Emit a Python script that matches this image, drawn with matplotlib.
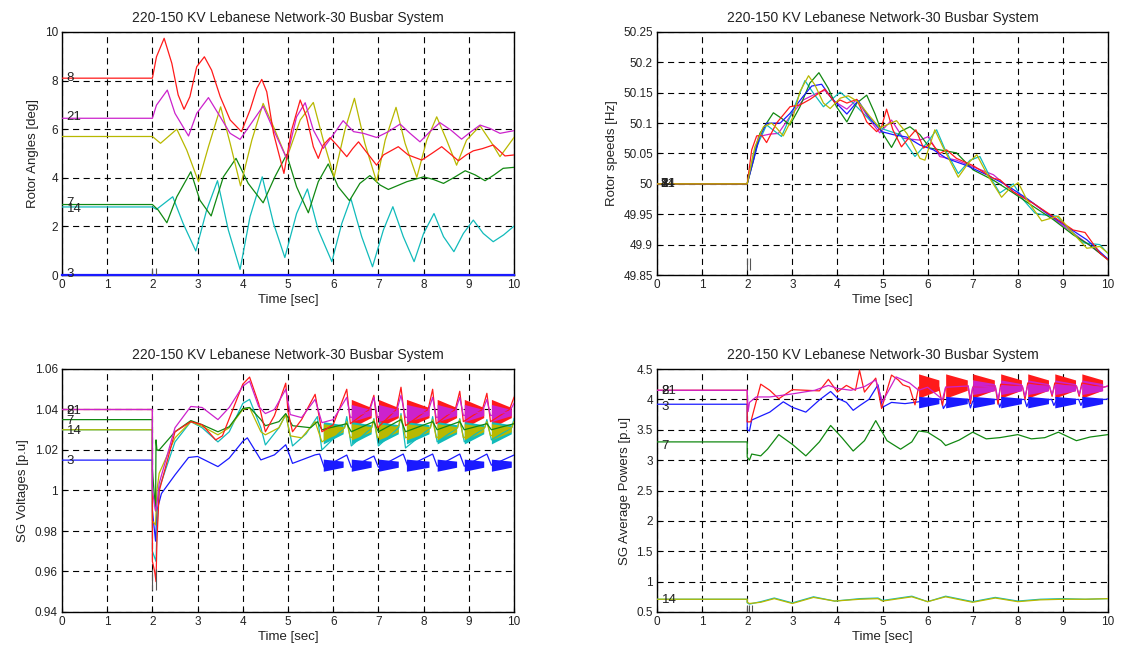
import matplotlib
matplotlib.use('Agg')
import matplotlib.pyplot as plt
from matplotlib.ticker import FormatStrFormatter, MultipleLocator

plt.rcParams['font.family'] = ['Liberation Sans', 'DejaVu Sans']

TITLE = "220-150 KV Lebanese Network-30 Busbar System"
XLABEL = "Time [sec]"

RED = '#ff1a1a'
MAG = '#cc22cc'
YEL = '#b8b800'
GRN = '#118811'
CYA = '#11bbbb'
BLU = '#1a1aff'

# ---------------- Panel 1: rotor angles [deg] ----------------
ra_red_t = [0, 2.0, 2.09, 2.26, 2.43, 2.57, 2.70, 2.83, 2.98, 3.15, 3.31, 3.50, 3.72, 3.97, 4.16, 4.31, 4.42, 4.53, 4.68, 4.91, 5.08, 5.27, 5.41, 5.56, 5.67, 5.78, 5.93, 6.08, 6.30, 6.43, 6.56, 6.76, 6.96, 7.11, 7.44, 7.66, 7.96, 8.18, 8.40, 8.58, 8.77, 8.95, 9.10, 9.30, 9.54, 9.80, 10]
ra_red = [8.1, 8.1, 8.98, 9.74, 8.71, 7.41, 6.82, 7.34, 8.57, 8.98, 8.43, 7.34, 6.38, 5.90, 6.79, 7.68, 8.05, 7.54, 5.83, 4.18, 5.97, 7.20, 6.51, 5.28, 4.80, 5.35, 5.65, 5.35, 4.87, 5.2, 5.48, 5.0, 4.52, 4.94, 5.28, 4.94, 4.73, 5.0, 5.28, 5.0, 4.70, 4.95, 5.11, 5.2, 5.35, 4.90, 4.94]
ra_mag_t = [0, 2.0, 2.09, 2.33, 2.50, 2.80, 2.98, 3.24, 3.50, 3.72, 3.94, 4.16, 4.45, 4.68, 4.97, 5.19, 5.38, 5.56, 5.78, 5.97, 6.22, 6.45, 6.67, 6.96, 7.22, 7.48, 7.70, 7.92, 8.14, 8.36, 8.60, 8.84, 9.05, 9.25, 9.47, 9.69, 10]
ra_mag = [6.45, 6.45, 6.99, 7.61, 6.65, 5.72, 6.65, 7.30, 6.51, 5.83, 5.58, 6.17, 6.95, 5.97, 4.80, 6.51, 7.09, 5.97, 5.21, 5.69, 6.35, 5.90, 5.83, 5.66, 5.90, 6.21, 5.83, 5.48, 5.90, 6.27, 5.97, 5.59, 5.90, 6.17, 6.03, 5.83, 5.94]
ra_yel_t = [0, 2.0, 2.18, 2.54, 2.76, 3.02, 3.24, 3.51, 3.72, 3.95, 4.20, 4.45, 4.68, 4.97, 5.27, 5.56, 5.78, 6.02, 6.26, 6.47, 6.70, 6.96, 7.15, 7.39, 7.59, 7.85, 8.07, 8.29, 8.51, 8.73, 8.95, 9.25, 9.51, 9.69, 10]
ra_yel = [5.7, 5.7, 5.42, 6.0, 5.14, 3.84, 5.28, 6.92, 5.42, 3.67, 5.55, 7.06, 6.10, 4.80, 6.38, 7.10, 5.55, 4.04, 5.97, 7.27, 5.42, 3.84, 5.55, 6.90, 5.42, 4.02, 5.55, 6.51, 5.55, 4.52, 5.55, 6.14, 5.42, 4.87, 5.66]
ra_grn_t = [0, 2.0, 2.13, 2.32, 2.54, 2.85, 3.05, 3.30, 3.57, 3.85, 4.12, 4.45, 4.71, 4.97, 5.19, 5.45, 5.67, 5.89, 6.11, 6.36, 6.59, 6.81, 7.04, 7.22, 7.63, 8.0, 8.22, 8.44, 8.68, 8.92, 9.14, 9.36, 9.56, 9.76, 10]
ra_grn = [2.9, 2.9, 2.67, 2.15, 3.22, 4.25, 3.08, 2.43, 4.04, 4.80, 3.77, 2.97, 4.04, 4.96, 3.63, 2.56, 3.84, 4.57, 3.63, 3.06, 3.77, 4.09, 3.70, 3.52, 3.84, 4.04, 3.93, 3.77, 4.02, 4.29, 4.12, 3.88, 4.12, 4.39, 4.43]
ra_cya_t = [0, 2.0, 2.09, 2.45, 2.68, 2.96, 3.20, 3.44, 3.68, 3.94, 4.16, 4.43, 4.68, 4.93, 5.19, 5.43, 5.67, 5.97, 6.19, 6.39, 6.63, 6.87, 7.11, 7.32, 7.55, 7.79, 8.0, 8.23, 8.44, 8.67, 8.88, 9.10, 9.32, 9.54, 9.77, 10]
ra_cya = [2.8, 2.8, 2.70, 3.22, 2.12, 0.99, 2.67, 3.88, 1.85, 0.23, 2.40, 4.04, 2.12, 0.72, 2.53, 3.54, 1.85, 0.55, 2.12, 3.15, 1.58, 0.34, 1.85, 2.81, 1.58, 0.55, 1.71, 2.53, 1.58, 0.96, 1.71, 2.26, 1.71, 1.37, 1.65, 2.01]
ra_blu_t = [0, 10]
ra_blu = [0, 0]
ra_labels = ["8", "21", "7", "14", "3"]
ra_label_y = [8.1, 6.5, 2.95, 2.72, 0.05]

# ---------------- Panel 2: rotor speeds [Hz] ----------------
rs_red_t = [0, 2.0, 2.1, 2.21, 2.32, 2.43, 2.65, 2.95, 3.17, 3.39, 3.72, 3.84, 3.95, 4.06, 4.21, 4.43, 4.65, 4.87, 4.98, 5.09, 5.23, 5.42, 5.61, 5.74, 5.91, 6.09, 6.27, 6.42, 6.64, 7.01, 7.46, 7.6, 7.9, 8.34, 8.79, 9.23, 9.49, 9.82, 10]
rs_red = [50, 50, 50.056, 50.079, 50.08, 50.068, 50.1, 50.127, 50.13, 50.139, 50.156, 50.144, 50.133, 50.138, 50.133, 50.139, 50.102, 50.086, 50.094, 50.123, 50.089, 50.061, 50.078, 50.089, 50.059, 50.067, 50.05, 50.056, 50.042, 50.03, 50.009, 50.007, 49.987, 49.968, 49.946, 49.924, 49.92, 49.886, 49.875]
rs_grn_t = [0, 2.0, 2.14, 2.28, 2.58, 2.76, 2.95, 3.17, 3.39, 3.59, 3.80, 3.98, 4.21, 4.43, 4.65, 4.83, 4.98, 5.20, 5.39, 5.61, 5.83, 6.05, 6.27, 6.64, 7.01, 7.46, 7.9, 8.34, 8.79, 9.23, 9.6, 10]
rs_grn = [50, 50, 50.039, 50.083, 50.117, 50.108, 50.097, 50.127, 50.166, 50.183, 50.157, 50.127, 50.102, 50.133, 50.146, 50.116, 50.086, 50.06, 50.086, 50.094, 50.081, 50.059, 50.056, 50.051, 50.023, 50.006, 49.985, 49.963, 49.941, 49.916, 49.899, 49.875]
rs_blu_t = [0, 2.0, 2.28, 2.43, 2.73, 2.95, 3.24, 3.43, 3.65, 3.87, 4.21, 4.46, 4.72, 4.98, 5.24, 5.54, 5.83, 6.13, 6.42, 6.87, 7.31, 7.75, 8.2, 8.64, 9.08, 9.53, 10]
rs_blu = [50, 50, 50.078, 50.1, 50.1, 50.116, 50.144, 50.161, 50.164, 50.141, 50.115, 50.137, 50.108, 50.086, 50.081, 50.077, 50.064, 50.056, 50.042, 50.03, 50.015, 49.998, 49.976, 49.952, 49.93, 49.908, 49.876]
rs_cya_t = [0, 2.0, 2.14, 2.43, 2.76, 3.02, 3.28, 3.47, 3.69, 4.06, 4.35, 4.72, 5.02, 5.39, 5.57, 5.72, 5.98, 6.2, 6.39, 6.68, 6.94, 7.16, 7.38, 7.6, 7.9, 8.12, 8.38, 8.57, 8.86, 9.23, 9.45, 9.82, 10]
rs_cya = [50, 50, 50.05, 50.097, 50.078, 50.122, 50.17, 50.149, 50.127, 50.151, 50.133, 50.105, 50.09, 50.081, 50.061, 50.045, 50.067, 50.089, 50.056, 50.017, 50.039, 50.045, 50.012, 49.985, 50.0, 49.974, 49.952, 49.949, 49.947, 49.919, 49.903, 49.9, 49.885]
rs_yel_t = [0, 2.0, 2.17, 2.36, 2.54, 2.65, 2.80, 3.02, 3.17, 3.36, 3.50, 3.69, 3.84, 4.06, 4.24, 4.46, 4.72, 4.94, 5.31, 5.54, 5.83, 5.94, 6.16, 6.35, 6.68, 6.90, 7.09, 7.31, 7.64, 7.83, 8.01, 8.2, 8.53, 8.9, 9.16, 9.53, 9.82, 10]
rs_yel = [50, 50, 50.061, 50.094, 50.1, 50.092, 50.079, 50.111, 50.152, 50.178, 50.163, 50.133, 50.124, 50.141, 50.145, 50.135, 50.111, 50.092, 50.104, 50.083, 50.042, 50.039, 50.089, 50.059, 50.011, 50.034, 50.048, 50.017, 49.978, 49.993, 50.002, 49.974, 49.939, 49.947, 49.924, 49.894, 49.897, 49.886]
rs_mag_t = [0, 2.0, 2.25, 2.51, 2.69, 2.95, 3.24, 3.54, 3.72, 3.95, 4.21, 4.43, 4.72, 4.94, 5.2, 5.46, 5.83, 6.02, 6.27, 6.64, 7.01, 7.46, 7.9, 8.34, 8.79, 9.23, 10]
rs_mag = [50, 50, 50.078, 50.082, 50.083, 50.111, 50.138, 50.149, 50.154, 50.135, 50.123, 50.139, 50.105, 50.084, 50.105, 50.075, 50.072, 50.078, 50.045, 50.039, 50.028, 50.015, 49.987, 49.968, 49.943, 49.919, 49.876]
rs_labels = ["3", "8", "21", "4", "14", "7"]

# ---------------- Panel 3: SG voltages [p.u] ----------------
v_red_t = [0, 2.0, 2.0, 2.05, 2.08, 2.1, 2.15, 2.5, 2.85, 3.1, 3.4, 3.55, 4.0, 4.15, 4.35, 4.5, 4.7, 4.95, 5.0, 5.1, 5.3, 5.6, 5.75, 6.0, 6.3, 6.38, 6.8, 6.9, 6.98, 7.4, 7.5, 7.6, 8.1, 8.2, 8.28, 8.7, 8.8, 8.88, 9.3, 9.4, 9.48, 9.9, 10]
v_red = [1.04, 1.04, 0.965, 0.96, 0.955, 0.975, 0.9997, 1.029, 1.034, 1.0325, 1.025, 1.027, 1.0525, 1.056, 1.043, 1.029, 1.037, 1.053, 1.039, 1.029, 1.035, 1.0475, 1.029, 1.0325, 1.05, 1.033, 1.04, 1.047, 1.031, 1.04, 1.051, 1.032, 1.04, 1.05, 1.033, 1.04, 1.049, 1.034, 1.04, 1.048, 1.034, 1.04, 1.046]
v_mag_t = [0, 2.0, 2.0, 2.07, 2.1, 2.15, 2.5, 2.85, 3.1, 3.45, 3.7, 4.0, 4.15, 4.35, 4.5, 4.7, 4.95, 5.05, 5.3, 5.6, 5.75, 6.0, 6.3, 6.38, 6.8, 6.9, 6.98, 7.4, 7.5, 7.6, 8.1, 8.2, 8.28, 8.7, 8.8, 8.88, 9.3, 9.4, 9.48, 9.9, 10]
v_mag = [1.04, 1.04, 1.0, 0.99, 0.993, 1.0035, 1.031, 1.0415, 1.041, 1.035, 1.041, 1.0515, 1.054, 1.0415, 1.038, 1.04, 1.05, 1.0375, 1.036, 1.045, 1.0335, 1.035, 1.046, 1.036, 1.039, 1.046, 1.036, 1.039, 1.047, 1.036, 1.039, 1.046, 1.036, 1.039, 1.046, 1.037, 1.039, 1.045, 1.037, 1.039, 1.043]
v_grn_t = [0, 2.0, 2.0, 2.07, 2.08, 2.1, 2.15, 2.5, 2.85, 3.1, 3.45, 3.7, 4.0, 4.15, 4.4, 4.5, 4.8, 4.95, 5.1, 5.5, 5.65, 5.75, 6.3, 6.4, 6.9, 7.0, 7.5, 7.6, 8.2, 8.3, 8.8, 8.9, 9.4, 9.5, 10]
v_grn = [1.035, 1.035, 1.01, 0.99, 1.025, 1.02, 1.02, 1.029, 1.0345, 1.0325, 1.029, 1.0315, 1.0405, 1.041, 1.035, 1.032, 1.034, 1.038, 1.032, 1.031, 1.034, 1.03, 1.033, 1.029, 1.034, 1.029, 1.035, 1.029, 1.034, 1.03, 1.034, 1.03, 1.033, 1.03, 1.033]
v_yel_t = [0, 2.0, 2.0, 2.07, 2.1, 2.15, 2.5, 2.85, 3.1, 3.45, 3.7, 4.0, 4.15, 4.4, 4.5, 4.8, 4.95, 5.05, 5.3, 5.6, 5.75, 6.25, 6.3, 6.38, 6.85, 6.9, 6.98, 7.45, 7.5, 7.6, 8.15, 8.2, 8.28, 8.75, 8.8, 8.88, 9.35, 9.4, 9.48, 9.95, 10]
v_yel = [1.03, 1.03, 0.985, 0.983, 1.0, 1.0085, 1.026, 1.034, 1.0317, 1.0275, 1.031, 1.04, 1.0409, 1.029, 1.0275, 1.031, 1.0375, 1.027, 1.026, 1.034, 1.024, 1.031, 1.034, 1.026, 1.031, 1.035, 1.026, 1.032, 1.037, 1.026, 1.031, 1.035, 1.026, 1.031, 1.035, 1.026, 1.031, 1.034, 1.027, 1.031, 1.034]
v_cya_t = [0, 2.0, 2.0, 2.08, 2.1, 2.15, 2.5, 2.85, 3.1, 3.45, 3.7, 4.0, 4.15, 4.4, 4.5, 4.8, 4.95, 5.1, 5.4, 5.65, 5.75, 6.25, 6.3, 6.4, 6.85, 6.9, 7.0, 7.45, 7.5, 7.6, 8.15, 8.2, 8.3, 8.75, 8.8, 8.9, 9.35, 9.4, 9.5, 9.95, 10]
v_cya = [1.03, 1.03, 0.97, 0.965, 0.98, 1.001, 1.024, 1.034, 1.031, 1.024, 1.029, 1.043, 1.045, 1.031, 1.0225, 1.031, 1.0375, 1.022, 1.028, 1.0365, 1.020, 1.031, 1.0365, 1.022, 1.031, 1.0355, 1.022, 1.031, 1.038, 1.021, 1.031, 1.0365, 1.024, 1.031, 1.0355, 1.024, 1.031, 1.035, 1.025, 1.031, 1.0355]
v_blu_t = [0, 2.0, 2.0, 2.07, 2.1, 2.2, 2.5, 2.8, 3.0, 3.45, 3.7, 4.0, 4.1, 4.4, 4.7, 4.95, 5.1, 5.6, 5.7, 5.8, 6.3, 6.4, 6.9, 7.0, 7.55, 7.65, 8.2, 8.3, 8.8, 8.9, 9.4, 9.5, 10]
v_blu = [1.015, 1.015, 0.99, 0.975, 0.99, 0.9985, 1.0077, 1.0163, 1.0168, 1.0118, 1.016, 1.0243, 1.026, 1.0151, 1.0176, 1.0226, 1.0134, 1.0176, 1.018, 1.0115, 1.0175, 1.0115, 1.017, 1.0115, 1.018, 1.012, 1.018, 1.012, 1.018, 1.012, 1.018, 1.0125, 1.0175]
# oscillation bands (envelope start/end of each burst)
vb_t0 = [5.78, 6.4, 7.0, 7.62, 8.3, 8.9, 9.5]
vb_t1 = [6.22, 6.84, 7.44, 8.12, 8.73, 9.33, 9.94]
vb_colors = [RED, MAG, CYA, YEL, BLU]
vb_first = [1, 1, 0, 0, 0]
vb_hi0 = [1.045, 1.0425, 1.034, 1.033, 1.0155]
vb_lo0 = [1.031, 1.034, 1.023, 1.025, 1.0095]
vb_hi1 = [1.041, 1.040, 1.0325, 1.0315, 1.0145]
vb_lo1 = [1.036, 1.037, 1.028, 1.029, 1.0115]
v_labels = ["8", "21", "7", "14", "3"]
v_label_y = [1.0395, 1.0395, 1.0345, 1.0295, 1.0145]

# ---------------- Panel 4: SG average powers [p.u] ----------------
p_red_t = [0, 2.0, 2.0, 2.08, 2.3, 2.5, 2.7, 3.0, 3.3, 3.6, 3.8, 4.0, 4.2, 4.4, 4.49, 4.6, 4.85, 4.98, 5.2, 5.35, 5.45, 5.6, 5.72, 5.8, 6.25, 6.33, 6.4, 6.9, 6.95, 7.0, 7.5, 7.56, 7.62, 8.1, 8.16, 8.22, 8.7, 8.76, 8.82, 9.3, 9.36, 9.42, 9.9, 10]
p_red = [4.15, 4.15, 3.63, 3.63, 4.25, 4.15, 4.01, 4.16, 4.15, 4.14, 4.33, 4.12, 4.23, 4.15, 4.48, 4.12, 4.35, 3.85, 4.40, 4.32, 4.24, 4.2, 3.91, 4.2, 4.2, 3.9, 4.2, 4.22, 3.93, 4.2, 4.22, 3.92, 4.25, 4.22, 4.0, 4.27, 4.22, 4.05, 4.27, 4.22, 4.05, 4.27, 4.2, 4.22]
p_mag_t = [0, 2.0, 2.02, 2.05, 2.2, 2.5, 2.8, 3.0, 3.5, 3.8, 4.0, 4.3, 4.6, 4.85, 5.0, 5.3, 5.6, 5.8, 6.0, 6.33, 6.4, 6.9, 6.95, 7.0, 7.5, 7.56, 7.62, 8.1, 8.16, 8.22, 8.7, 8.76, 8.82, 9.3, 9.36, 9.42, 9.9, 10]
p_mag = [4.15, 4.15, 3.8, 3.95, 4.04, 4.04, 4.07, 4.09, 4.15, 4.23, 4.18, 4.15, 4.21, 4.32, 3.96, 4.37, 4.27, 4.15, 4.2, 4.0, 4.2, 4.22, 4.0, 4.2, 4.22, 4.0, 4.2, 4.22, 4.05, 4.22, 4.22, 4.08, 4.22, 4.22, 4.08, 4.22, 4.2, 4.22]
p_blu_t = [0, 2.0, 2.0, 2.05, 2.1, 2.5, 2.8, 3.0, 3.3, 3.6, 3.85, 4.0, 4.2, 4.35, 4.5, 4.7, 4.9, 5.0, 5.2, 5.5, 5.8, 6.0, 6.3, 6.35, 6.45, 6.9, 6.95, 7.0, 7.55, 7.6, 7.65, 8.15, 8.2, 8.25, 8.75, 8.8, 8.85, 9.35, 9.4, 9.45, 9.95, 10]
p_blu = [3.92, 3.92, 3.5, 3.48, 3.66, 3.79, 3.96, 3.87, 3.79, 3.99, 4.13, 4.02, 3.95, 3.82, 3.9, 4.0, 4.24, 3.87, 3.95, 3.93, 3.96, 4.02, 4.0, 3.85, 3.97, 4.0, 3.86, 3.97, 4.0, 3.87, 3.98, 4.0, 3.88, 3.98, 4.0, 3.9, 3.98, 4.0, 3.9, 3.99, 4.0, 4.01]
p_grn_t = [0, 2.0, 2.0, 2.05, 2.1, 2.3, 2.45, 2.7, 3.0, 3.3, 3.6, 3.85, 4.1, 4.35, 4.6, 4.85, 5.1, 5.4, 5.65, 5.8, 6.0, 6.3, 6.4, 6.7, 7.0, 7.3, 7.6, 8.0, 8.3, 8.6, 8.9, 9.3, 9.6, 10]
p_grn = [3.3, 3.3, 3.05, 3.0, 3.1, 3.07, 3.18, 3.42, 3.26, 3.07, 3.3, 3.57, 3.37, 3.15, 3.32, 3.65, 3.32, 3.18, 3.3, 3.48, 3.46, 3.32, 3.24, 3.33, 3.46, 3.35, 3.37, 3.42, 3.35, 3.37, 3.46, 3.32, 3.38, 3.42]
p_low_t = [0, 2.0, 2.0, 2.05, 2.3, 2.6, 3.0, 3.47, 3.94, 4.5, 4.9, 5.0, 5.65, 6.0, 6.4, 7.0, 7.5, 8.0, 8.5, 9.0, 9.5, 10]
p_cya = [0.71, 0.71, 0.65, 0.63, 0.67, 0.73, 0.65, 0.75, 0.68, 0.72, 0.73, 0.69, 0.76, 0.67, 0.76, 0.67, 0.74, 0.68, 0.71, 0.72, 0.71, 0.72]
p_yel = [0.71, 0.71, 0.66, 0.64, 0.66, 0.72, 0.64, 0.74, 0.68, 0.71, 0.72, 0.68, 0.75, 0.67, 0.75, 0.66, 0.73, 0.67, 0.70, 0.71, 0.71, 0.72]
pb_t0 = [5.8, 6.4, 7.0, 7.62, 8.22, 8.82, 9.42]
pb_t1 = [6.25, 6.88, 7.48, 8.08, 8.68, 9.28, 9.88]
pb_colors = [RED, MAG, BLU]
pb_first = [0, 2, 0]
pb_hi0 = [4.42, 4.32, 4.05]
pb_lo0 = [4.02, 4.08, 3.86]
pb_hi1 = [4.32, 4.26, 4.02]
pb_lo1 = [4.15, 4.14, 3.93]
p_labels = ["8", "21", "3", "7", "14"]
p_label_y = [4.14, 4.14, 3.87, 3.23, 0.7]

# ---------------- figure ----------------
fig = plt.figure(figsize=(11.21, 6.5), dpi=100)
W, H = 1121.0, 650.0
def add_ax(x0, ytop, ybot, x1):
    return fig.add_axes([x0 / W, 1 - ybot / H, (x1 - x0) / W, (ybot - ytop) / H])

ax1 = add_ax(62, 32, 275, 514)
ax2 = add_ax(657, 32, 275, 1108)
ax3 = add_ax(62, 369, 612, 514)
ax4 = add_ax(657, 369, 612, 1108)

LW = 0.9
TXT = '#222222'

def style(ax, ylim, ystep, ylabel, fmt):
    ax.set_xlim(0, 10)
    ax.set_ylim(*ylim)
    ax.xaxis.set_major_locator(MultipleLocator(1))
    ax.yaxis.set_major_locator(MultipleLocator(ystep))
    ax.yaxis.set_major_formatter(FormatStrFormatter(fmt))
    ax.grid(True, color='black', linestyle=(0, (5.5, 4)), linewidth=0.8)
    ax.set_axisbelow(True)
    ax.tick_params(direction='in', length=3, labelsize=8.5, colors='black', labelcolor=TXT, pad=3)
    for s in ax.spines.values():
        s.set_linewidth(1.0)
        s.set_color('black')
    ax.set_title(TITLE, fontsize=10, color=TXT, pad=7)
    ax.set_xlabel(XLABEL, fontsize=9.5, color=TXT, labelpad=2)
    ax.set_ylabel(ylabel, fontsize=9.5, color=TXT, labelpad=4)

def bands(ax, t0, t1, colors, first, hi0, lo0, hi1, lo1):
    for c, f, a, b, cc, d in zip(colors, first, hi0, lo0, hi1, lo1):
        for i in range(f, len(t0)):
            ax.fill_between([t0[i], t1[i]], [b, d], [a, cc], color=c, linewidth=0, zorder=3)

def labels(ax, texts, ys, x=0.1):
    for s, y in zip(texts, ys):
        ax.text(x, y, s, fontsize=9.5, color=TXT, va='center', ha='left', zorder=6)

# Panel 1
ax1.plot(ra_blu_t, ra_blu, color=BLU, lw=1.6, zorder=4, clip_on=False)
ax1.plot(ra_cya_t, ra_cya, color=CYA, lw=LW, zorder=4)
ax1.plot(ra_grn_t, ra_grn, color=GRN, lw=LW, zorder=4)
ax1.plot(ra_yel_t, ra_yel, color=YEL, lw=LW, zorder=4)
ax1.plot(ra_mag_t, ra_mag, color=MAG, lw=LW, zorder=4)
ax1.plot(ra_red_t, ra_red, color=RED, lw=LW, zorder=4)
ax1.vlines([2.0, 2.07], -0.1, 0.3, color='#555555', lw=0.8, zorder=5)
labels(ax1, ra_labels, ra_label_y)
style(ax1, (0, 10), 2, "Rotor Angles [deg]", '%g')

# Panel 2
for tt, vv, c in [(rs_mag_t, rs_mag, MAG), (rs_cya_t, rs_cya, CYA), (rs_grn_t, rs_grn, GRN),
                  (rs_blu_t, rs_blu, BLU), (rs_red_t, rs_red, RED), (rs_yel_t, rs_yel, YEL)]:
    ax2.plot(tt, vv, color=c, lw=LW, zorder=4)
ax2.vlines([2.0, 2.07], 49.858, 49.878, color='#555555', lw=0.8, zorder=5)
labels(ax2, rs_labels, [50.0] * len(rs_labels), x=0.08)
style(ax2, (49.85, 50.25), 0.05, "Rotor speeds [Hz]", '%g')

# Panel 3
bands(ax3, vb_t0, vb_t1, vb_colors, vb_first, vb_hi0, vb_lo0, vb_hi1, vb_lo1)
for tt, vv, c in [(v_blu_t, v_blu, BLU), (v_cya_t, v_cya, CYA), (v_yel_t, v_yel, YEL),
                  (v_grn_t, v_grn, GRN), (v_red_t, v_red, RED), (v_mag_t, v_mag, MAG)]:
    ax3.plot(tt, vv, color=c, lw=LW, zorder=4)
ax3.vlines([2.0, 2.08], 0.951, 0.961, color='#555555', lw=0.8, zorder=5)
labels(ax3, v_labels, v_label_y)
style(ax3, (0.94, 1.06), 0.02, "SG Voltages [p.u]", '%g')

# Panel 4
bands(ax4, pb_t0, pb_t1, pb_colors, pb_first, pb_hi0, pb_lo0, pb_hi1, pb_lo1)
for tt, vv, c in [(p_low_t, p_cya, CYA), (p_low_t, p_yel, YEL), (p_grn_t, p_grn, GRN),
                  (p_blu_t, p_blu, BLU), (p_red_t, p_red, RED), (p_mag_t, p_mag, MAG)]:
    ax4.plot(tt, vv, color=c, lw=LW, zorder=4)
ax4.vlines([2.0, 2.05, 2.1], 0.5, 0.62, color='#555555', lw=0.8, zorder=5)
labels(ax4, p_labels, p_label_y)
style(ax4, (0.5, 4.5), 0.5, "SG Average Powers [p.u]", '%g')

fig.savefig('out.png', dpi=100)
